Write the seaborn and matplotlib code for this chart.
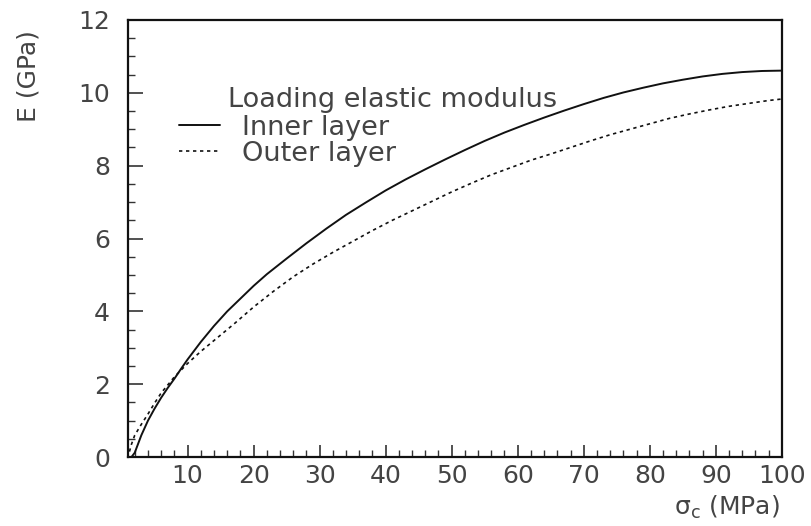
import matplotlib
matplotlib.use("Agg")
import matplotlib.pyplot as plt
from matplotlib.ticker import MultipleLocator
from matplotlib.lines import Line2D
import seaborn as sns
import pandas as pd

# ---- data ----
inner_sigma = [1.5, 2, 3, 4, 5, 6, 7, 8, 9, 10, 12, 14, 16, 18, 20, 22, 25, 28, 31, 34, 37, 40,
               43, 46, 49, 52, 55, 58, 61, 64, 67, 70, 73, 76, 79, 82, 85, 88, 91, 94, 97, 100]
inner_E = [0.0, 0.12, 0.6, 1.0, 1.33, 1.63, 1.9, 2.15, 2.42, 2.68, 3.16, 3.6, 4.0, 4.35, 4.7, 5.02,
           5.45, 5.87, 6.27, 6.65, 6.99, 7.32, 7.62, 7.9, 8.17, 8.43, 8.68, 8.91, 9.12, 9.32, 9.51,
           9.69, 9.86, 10.01, 10.14, 10.26, 10.36, 10.45, 10.52, 10.57, 10.6, 10.61]

outer_sigma = [1.2, 1.5, 2, 3, 4, 5, 6, 8, 10, 12, 14, 17, 20, 23, 26, 29, 32, 35, 38, 41, 44,
               47, 50, 53, 56, 59, 62, 65, 68, 71, 74, 77, 80, 83, 86, 89, 92, 95, 98, 100]
outer_E = [0.15, 0.35, 0.6, 0.9, 1.18, 1.48, 1.76, 2.2, 2.57, 2.9, 3.2, 3.65, 4.12, 4.55, 4.95,
           5.3, 5.62, 5.92, 6.22, 6.5, 6.76, 7.02, 7.28, 7.52, 7.75, 7.95, 8.15, 8.32, 8.5, 8.68,
           8.85, 9.0, 9.15, 9.3, 9.42, 9.53, 9.63, 9.71, 9.79, 9.83]

series_names = ["Inner layer", "Outer layer"]
legend_title = "Loading elastic modulus"
x_ticks = [10, 20, 30, 40, 50, 60, 70, 80, 90, 100]
y_ticks = [0, 2, 4, 6, 8, 10, 12]

df = pd.concat([
    pd.DataFrame({"sigma": inner_sigma, "E": inner_E, "layer": series_names[0]}),
    pd.DataFrame({"sigma": outer_sigma, "E": outer_E, "layer": series_names[1]}),
], ignore_index=True)

sns.set_style("ticks")
plt.rcParams["font.family"] = ["DejaVu Sans"]
plt.rcParams["mathtext.fontset"] = "dejavusans"
TXT = "#444444"

fig = plt.figure(figsize=(8.11, 5.26), dpi=100)
ax = fig.add_axes([0.158, 0.131, 0.806, 0.831])

sns.lineplot(data=df[df.layer == series_names[0]], x="sigma", y="E", ax=ax,
             color="#111111", lw=1.4, sort=False, legend=False)
sns.lineplot(data=df[df.layer == series_names[1]], x="sigma", y="E", ax=ax,
             color="#111111", lw=1.2, sort=False, legend=False)
ax.lines[1].set_linestyle((0, (2.0, 2.2)))

ax.set_xlim(1, 100)
ax.set_ylim(0, 12)
ax.set_xticks(x_ticks)
ax.set_yticks(y_ticks)
ax.xaxis.set_minor_locator(MultipleLocator(2))
ax.yaxis.set_minor_locator(MultipleLocator(0.5))
ax.tick_params(axis="both", which="major", direction="in", width=1.2,
               labelsize=18, labelcolor=TXT, color="#333333")
ax.tick_params(axis="y", which="major", length=11, pad=13)
ax.tick_params(axis="x", which="major", length=9, pad=5)
ax.tick_params(axis="both", which="minor", direction="in", length=5, width=1.0, color="#333333")
ax.tick_params(top=False, right=False, which="both")
for s in ax.spines.values():
    s.set_linewidth(1.6)
    s.set_color("#111111")

ax.set_xlabel("")
ax.set_ylabel("")
fig.text(0.035, 0.855, "E (GPa)", rotation=90, ha="center", va="center",
         fontsize=18, color=TXT)
fig.text(0.962, 0.035, "σ$_{\\rm c}$ (MPa)", ha="right", va="center",
         fontsize=18, color=TXT)

ax.text(0.153, 0.817, legend_title, transform=ax.transAxes, ha="left", va="center",
        fontsize=19.5, color=TXT)
handles = [Line2D([], [], color="#111111", lw=1.4),
           Line2D([], [], color="#111111", lw=1.2, linestyle=(0, (2.0, 2.2)))]
ax.legend(handles, series_names, loc="upper left", bbox_to_anchor=(0.062, 0.808),
          frameon=False, fontsize=19.5, labelcolor=TXT, handlelength=1.5,
          handletextpad=0.8, labelspacing=0.0, borderaxespad=0)

fig.savefig("out.png", dpi=100)
